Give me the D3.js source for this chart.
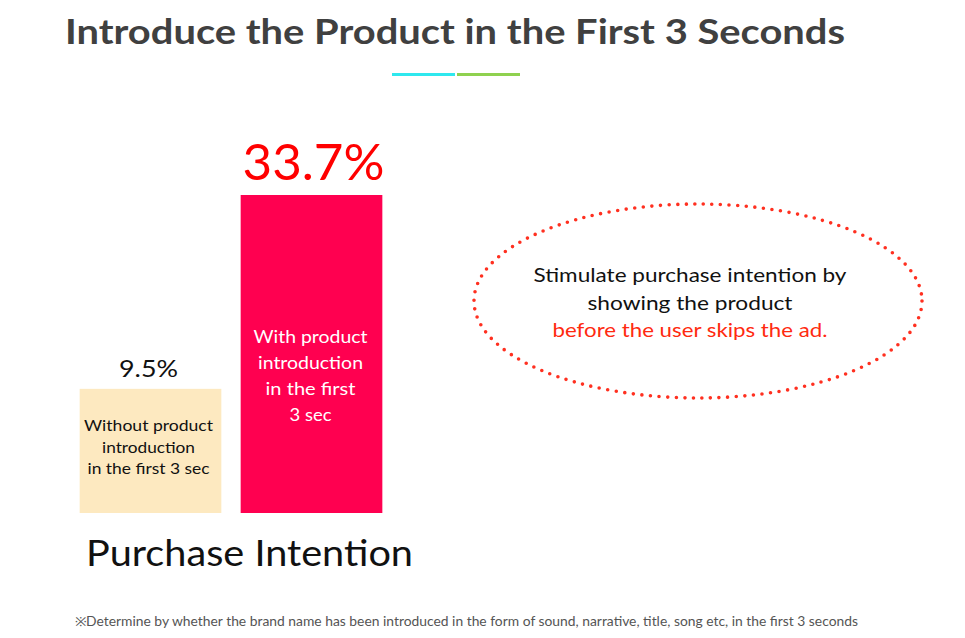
<!DOCTYPE html>
<html><head><meta charset="utf-8">
<script src="https://cdn.jsdelivr.net/npm/d3@7"></script>
<style>body{margin:0;background:#fff}svg{display:block}</style>
</head><body>
<script>
const categories = ["Without product introduction in the first 3 sec", "With product introduction in the first 3 sec"];
const values = [9.5, 33.7];
const valueLabels = ["9.5%", "33.7%"];
const innerLines = [["Without product", "introduction", "in the first 3 sec"], ["With product", "introduction", "in the first", "3 sec"]];
const calloutLines = ["Stimulate purchase intention by", "showing the product", "before the user skips the ad."];

const W = 965, H = 638;
const svg = d3.select("body").append("svg").attr("width", W).attr("height", H);
const font = "Lato, 'Open Sans', sans-serif";

// fit helper: stretch text to a measured width
function fit(sel, w) { return sel.attr("textLength", w).attr("lengthAdjust", "spacingAndGlyphs"); }

fit(svg.append("text").attr("x", 455).attr("y", 44).attr("text-anchor", "middle")
  .attr("font-family", font).attr("font-weight", "bold").attr("font-size", 34)
  .attr("fill", "#404040"), 780)
  .text("Introduce the Product in the First 3 Seconds");
svg.append("rect").attr("x", 392).attr("y", 73).attr("width", 63).attr("height", 3).attr("fill", "#2ee8ee");
svg.append("rect").attr("x", 457).attr("y", 73).attr("width", 63).attr("height", 3).attr("fill", "#8fd14f");

const x = d3.scaleBand().domain(categories).range([70, 392]).paddingInner(0.12).paddingOuter(0.06);
const y = d3.scaleLinear().domain([-6, 33.7]).range([513, 195]);
const colors = ["#fde9c0", "#ff0050"];
const textColors = ["#111", "#fff"];

const g = svg.append("g");
g.selectAll("rect.bar").data(values).join("rect").attr("class", "bar")
  .attr("x", (d, i) => x(categories[i])).attr("width", x.bandwidth())
  .attr("y", d => y(d)).attr("height", d => y(-6) - y(d))
  .attr("fill", (d, i) => colors[i]);

const valW = [59, 142];
g.selectAll("text.val").data(values).join("text").attr("class", "val")
  .attr("x", (d, i) => x(categories[i]) + x.bandwidth() / 2 + (i === 1 ? 2 : -2))
  .attr("y", (d, i) => y(d) - (i === 1 ? 15 : 12))
  .attr("text-anchor", "middle").attr("font-family", font)
  .attr("font-size", (d, i) => i === 1 ? 51 : 24)
  .attr("fill", (d, i) => i === 1 ? "#ff0000" : "#111")
  .attr("textLength", (d, i) => valW[i]).attr("lengthAdjust", "spacingAndGlyphs")
  .text((d, i) => valueLabels[i]);

const innerW = [[129, 93, 122], [114, 105, 90, 42]];
innerLines.forEach((lines, i) => {
  const cx = x(categories[i]) + x.bandwidth() / 2 + (i === 0 ? -2 : -1);
  const fs = i === 1 ? 17 : 16;
  const lh = i === 1 ? 26 : 21.5;
  const y0 = i === 1 ? 343 : 431;
  lines.forEach((t, j) => {
    fit(g.append("text").attr("x", cx).attr("y", y0 + j * lh).attr("text-anchor", "middle")
      .attr("font-family", font).attr("font-size", fs).attr("fill", textColors[i]), innerW[i][j]).text(t);
  });
});

fit(svg.append("text").attr("x", 86).attr("y", 566).attr("font-family", font).attr("font-size", 36)
  .attr("fill", "#111"), 327).text("Purchase Intention");

svg.append("ellipse").attr("cx", 698).attr("cy", 301).attr("rx", 224).attr("ry", 97)
  .attr("fill", "none").attr("stroke", "#ff3020").attr("stroke-width", 3.6)
  .attr("stroke-linecap", "round").attr("stroke-dasharray", "0 8.6");

const calloutW = [313, 205, 275];
calloutLines.forEach((t, j) => {
  fit(svg.append("text").attr("x", 690).attr("y", 282 + j * 27.5).attr("text-anchor", "middle")
    .attr("font-family", font).attr("font-size", 19).attr("fill", j === 2 ? "#ff2a10" : "#111"), calloutW[j]).text(t);
});

fit(svg.append("text").attr("x", 75).attr("y", 626).attr("font-family", font).attr("font-size", 12.5)
  .attr("fill", "#555"), 783)
  .text("※Determine by whether the brand name has been introduced in the form of sound, narrative, title, song etc, in the first 3 seconds");
</script>
</body></html>
